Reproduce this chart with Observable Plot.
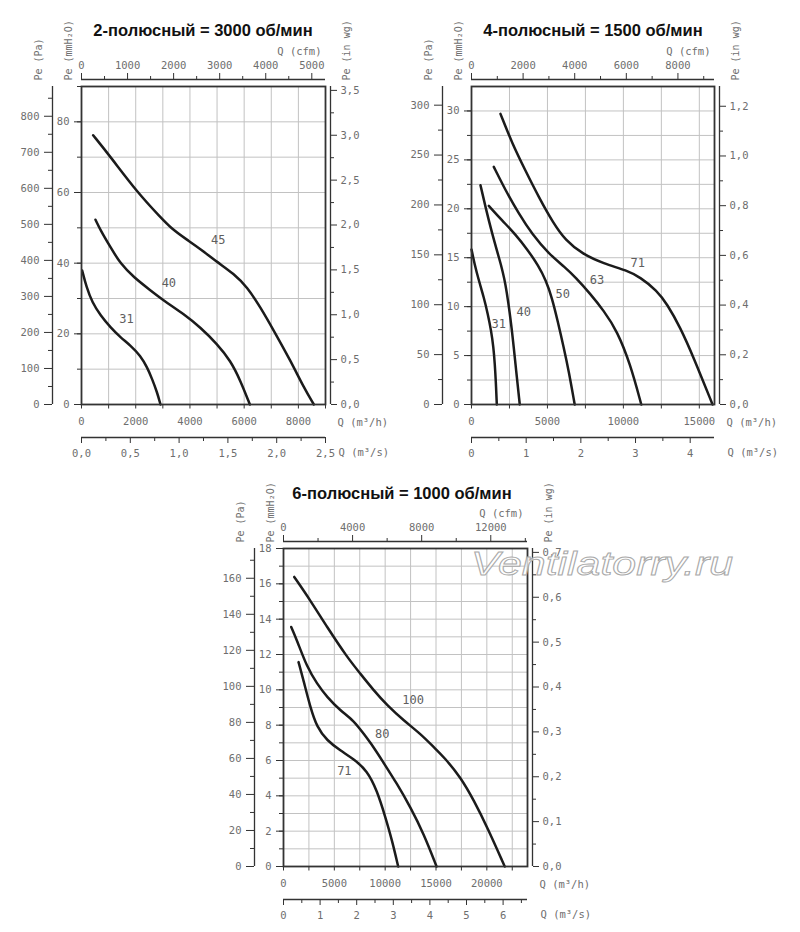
<!DOCTYPE html>
<html><head><meta charset="utf-8">
<script src="https://cdn.jsdelivr.net/npm/d3@7"></script>
<script src="https://cdn.jsdelivr.net/npm/@observablehq/plot@0.6"></script>
<style>
body{margin:0;background:#fff;}
#page{position:relative;width:800px;height:932px;overflow:hidden;}
.ttl{position:absolute;font-family:"Liberation Sans",Arial,sans-serif;font-weight:bold;font-size:16.5px;color:#111;white-space:nowrap;transform:translate(-50%,-50%);z-index:3}
.pnl{position:absolute;z-index:1}
#wm{position:absolute;left:466px;top:542px;z-index:4}
</style></head><body><div id="page"></div>
<script>
// ---------- Data (Q in m³/h, Pe in mmH2O) ----------
// Panel A: 2-pole, 3000 rpm
const a31Q = [25,184,394,701,1070,1439,1808,2177,2423,2607,2791,2914];
const a31P = [37.9,33.2,28.9,25.2,21.8,19.0,16.7,13.8,10.5,7.2,3.4,0];
const a40Q = [516,701,1070,1439,1930,2545,3037,3774,4390,5006,5497,5866,6210];
const a40P = [52.3,49.3,44.5,39.8,36.0,32.3,29.4,25.6,21.8,17.1,12.4,6.7,0];
const a45Q = [430,1070,2054,2914,3345,3899,4390,5006,5620,6113,6603,7094,7710,8201,8570];
const a45P = [76.2,70.1,60.1,53.0,49.6,46.6,44.0,40.3,37.0,33.2,27.5,20.9,12.4,4.8,0];
const aLabelText = ["31","40","45"];
const aLabelQ = [1660,3222,5043];
const aLabelP = [24.2,34.4,46.6];

// Panel B: 4-pole, 1500 rpm
const b31Q = [0,197,482,811,1074,1293,1447,1534,1600,1666];
const b31P = [15.85,14.38,12.67,10.96,9.26,7.55,5.84,4.14,2.43,0];
const b40Q = [592,921,1359,1797,2236,2674,2893,3178];
const b40P = [22.41,20.18,17.46,15.06,12.67,7.55,4.14,0];
const b50Q = [1140,2017,2893,3700,4400,4900,5300,5680,6072,6401,6795];
const b50P = [20.3,18.8,17.4,15.8,14.2,12.7,10.9,8.5,5.84,3.45,0];
const b63Q = [1468,2236,3113,3990,5085,6181,6839,7825,8702,9579,10456,11179];
const b63P = [24.29,21.9,19.5,17.4,15.4,14.0,13.0,11.31,9.6,7.55,4.14,0];
const b71Q = [1907,2674,3551,4428,5400,6181,7279,8700,10237,11113,12210,12867,13744,14621,15871];
const b71P = [29.7,26.7,23.9,21.2,18.5,16.8,15.4,14.4,13.7,13.0,11.65,10.29,7.89,4.82,0];
const bLabelText = ["31","40","50","63","71"];
const bLabelQ = [1797,3441,6006,8264,10938];
const bLabelP = [8.24,9.43,11.24,12.74,14.49];

// Panel C: 6-pole, 1000 rpm
const c71Q = [1479,1972,2633,3293,4279,5591,6902,8223,9209,10028,10688,11280];
const c71P = [11.57,10.53,9.02,7.88,7.13,6.56,6.09,5.43,4.29,2.78,1.46,0];
const c80Q = [759,1321,2307,3293,4279,5591,6902,7888,8874,9702,11181,12493,13804,15056];
const c80P = [13.56,12.81,11.29,10.35,9.59,8.83,8.26,7.51,6.75,6.0,4.67,3.35,1.84,0];
const c100Q = [1055,2633,4279,6251,7563,8874,10195,11832,13479,14790,15776,17423,18734,20055,21761];
const c100P = [16.39,15.07,13.56,11.85,10.91,9.97,9.12,8.26,7.51,6.75,6.2,5.05,3.73,2.21,0];
const cLabelText = ["71","80","100"];
const cLabelQ = [5985,9702,12758];
const cLabelP = [5.39,7.51,9.44];

// Titles
const titles = ["2-полюсный = 3000 об/мин","4-полюсный = 1500 об/мин","6-полюсный = 1000 об/мин"];

// ---------- unit conversions ----------
const PA = 9.80665, INWG = 25.4, CFM = 1.699011, M3S = 3600;
const comma = (v, n) => v.toFixed(n).replace(".", ",");
const AX = "#333", TXT = "#6e6e6e", GRID = "#c2c2c2";
const MONO = "'DejaVu Sans Mono', monospace";
const step = (a, b, s) => d3.range(0, Math.round((b - a) / s) + 1).map(i => +(a + i * s).toFixed(4));

function buildPanel(c) {
  const X = c.xMax, Y = c.yMax;
  const blank = () => "";
  const marks = [
    Plot.gridX(c.gridX, {stroke: GRID, strokeOpacity: 1, strokeWidth: 1}),
    Plot.gridY(c.gridY, {stroke: GRID, strokeOpacity: 1, strokeWidth: 1}),
    ...c.curves.map(k => Plot.line(k.q.map((q, i) => ({q, p: k.p[i]})),
      {x: "q", y: "p", curve: "basis", stroke: "#1b1b1b", strokeWidth: 2.5})),
    Plot.text(c.labels.t.map((t, i) => ({t, q: c.labels.q[i], p: c.labels.p[i]})),
      {x: "q", y: "p", text: "t", fontSize: 12, fill: "#5e5e5e"}),
    Plot.frame({stroke: AX, strokeWidth: 1.8}),
    // left mmH2O axis
    Plot.axisY(c.mmTicks, {anchor: "left", label: null, tickSize: 4, stroke: AX, tickFormat: blank}),
    Plot.axisY(c.mmLabels, {anchor: "left", label: null, tickSize: 7, tickPadding: 5, stroke: AX, fill: TXT, tickFormat: d => String(d)}),
    // Pa axis
    Plot.ruleX([0], {y1: () => 0, y2: () => Y, dx: -29, stroke: AX, strokeWidth: 1.3}),
    Plot.axisY(c.paMinor.map(p => p / PA), {anchor: "left", label: null, dx: -29, tickSize: 4, stroke: AX, tickFormat: blank}),
    Plot.axisY(c.paMajor.map(p => p / PA), {anchor: "left", label: null, dx: -29, tickSize: 8, tickPadding: 5, stroke: AX, fill: TXT, tickFormat: d => String(Math.round(d * PA))}),
    // in wg axis (right)
    Plot.ruleX([X], {y1: () => 0, y2: () => Y, dx: 5, stroke: AX, strokeWidth: 1.3}),
    Plot.axisY(c.wgMinor.map(w => w * INWG), {anchor: "right", label: null, dx: 5, tickSize: 3, stroke: AX, tickFormat: blank}),
    Plot.axisY(c.wgMajor.map(w => w * INWG), {anchor: "right", label: null, dx: 5, tickSize: 6, tickPadding: 4, stroke: AX, fill: TXT, tickFormat: d => comma(d / INWG, 1)}),
    // cfm axis (top)
    Plot.ruleY([Y], {x1: () => 0, x2: () => X, dy: -7, stroke: AX, strokeWidth: 1.3}),
    Plot.axisX(c.cfmMinor.map(v => v * CFM), {anchor: "top", label: null, dy: -7, tickSize: 4, stroke: AX, tickFormat: blank}),
    Plot.axisX(c.cfmMajor.map(v => v * CFM), {anchor: "top", label: null, dy: -7, tickSize: 7, tickPadding: 4, stroke: AX, fill: TXT,
      tickFormat: d => { const v = Math.round(d / CFM); return c.cfmLabels.includes(v) ? String(v) : ""; }}),
    // m³/h axis (bottom)
    Plot.axisX(c.qhTicks, {anchor: "bottom", label: null, tickSize: 4.5, tickPadding: 9, stroke: AX, fill: TXT,
      tickFormat: d => c.qhLabels.includes(d) ? String(d) : ""}),
    // m³/s axis (second bottom)
    Plot.ruleY([0], {x1: () => 0, x2: () => X, dy: 33, stroke: AX, strokeWidth: 1.3}),
    Plot.axisX(c.qsMinor.map(v => v * M3S), {anchor: "bottom", label: null, dy: 33, tickSize: 4, stroke: AX, tickFormat: blank}),
    Plot.axisX(c.qsMajor.map(v => v * M3S), {anchor: "bottom", label: null, dy: 33, tickSize: 6, tickPadding: 6, stroke: AX, fill: TXT,
      tickFormat: d => c.qsFmt(d / M3S)}),
    // axis titles
    Plot.text(["Pe (Pa)"], {x: () => 0, y: () => Y, text: d => d, dx: -43, dy: -6, rotate: -90, textAnchor: "start", fill: TXT, fontSize: 10}),
    Plot.text(["Pe (mmH₂O)"], {x: () => 0, y: () => Y, text: d => d, dx: -13, dy: -6, rotate: -90, textAnchor: "start", fill: TXT, fontSize: 10}),
    Plot.text(["Pe (in wg)"], {x: () => X, y: () => Y, text: d => d, dx: 21, dy: -6, rotate: -90, textAnchor: "start", fill: TXT, fontSize: 10}),
    Plot.text(["Q (cfm)"], {x: () => X, y: () => Y, text: d => d, dx: -4, dy: -35, textAnchor: "end", fill: TXT, fontSize: 10.5}),
    Plot.text(["Q (m³/h)"], {x: () => X, y: () => 0, text: d => d, dx: 12, dy: 18, textAnchor: "start", fill: TXT, fontSize: 10.5}),
    Plot.text(["Q (m³/s)"], {x: () => X, y: () => 0, text: d => d, dx: 13, dy: 48.5, textAnchor: "start", fill: TXT, fontSize: 10.5})
  ];
  return Plot.plot({
    width: c.width, height: c.height,
    marginLeft: c.mL, marginRight: c.mR, marginTop: c.mT, marginBottom: c.mB,
    x: {domain: [0, X], label: null}, y: {domain: [0, Y], label: null},
    style: {fontFamily: MONO, fontSize: "10.5px", background: "transparent", overflow: "visible"},
    marks
  });
}

const panels = [
  {
    left: 0, top: 0, width: 400, height: 465, mL: 81, mR: 75, mT: 86, mB: 61,
    xMax: 9000, yMax: 90,
    gridX: step(1000, 8000, 1000), gridY: step(10, 80, 10),
    curves: [{q: a31Q, p: a31P}, {q: a40Q, p: a40P}, {q: a45Q, p: a45P}],
    labels: {t: aLabelText, q: aLabelQ, p: aLabelP},
    mmTicks: step(0, 90, 10), mmLabels: step(0, 80, 20),
    paMajor: step(0, 800, 100), paMinor: step(50, 850, 100),
    wgMajor: step(0, 3.5, 0.5), wgMinor: step(0.25, 3.25, 0.5),
    cfmMajor: step(0, 5000, 1000), cfmMinor: step(500, 4500, 1000), cfmLabels: step(0, 5000, 1000),
    qhTicks: step(0, 9000, 1000), qhLabels: step(0, 8000, 2000),
    qsMajor: step(0, 2.5, 0.5), qsMinor: step(0.25, 2.25, 0.5), qsFmt: v => comma(v, 1),
    title: titles[0], tx: 203, ty: 30
  },
  {
    left: 400, top: 0, width: 400, height: 465, mL: 71, mR: 86, mT: 86, mB: 61,
    xMax: 16000, yMax: 32.5,
    gridX: step(2500, 15000, 2500), gridY: step(2.5, 30, 2.5),
    curves: [{q: b31Q, p: b31P}, {q: b40Q, p: b40P}, {q: b50Q, p: b50P}, {q: b63Q, p: b63P}, {q: b71Q, p: b71P}],
    labels: {t: bLabelText, q: bLabelQ, p: bLabelP},
    mmTicks: step(0, 30, 2.5), mmLabels: step(0, 30, 5),
    paMajor: step(0, 300, 50), paMinor: step(25, 275, 50),
    wgMajor: step(0, 1.2, 0.2), wgMinor: step(0.1, 1.1, 0.2),
    cfmMajor: step(0, 8000, 2000), cfmMinor: step(1000, 9000, 2000), cfmLabels: step(0, 8000, 2000),
    qhTicks: step(0, 15000, 2500), qhLabels: step(0, 15000, 5000),
    qsMajor: step(0, 4, 1), qsMinor: step(0.5, 3.5, 1), qsFmt: v => String(Math.round(v)),
    title: titles[1], tx: 593, ty: 30
  },
  {
    left: 200, top: 465, width: 400, height: 467, mL: 83, mR: 73, mT: 83, mB: 66,
    xMax: 24000, yMax: 18,
    gridX: step(2500, 22500, 2500), gridY: step(1, 17, 1),
    curves: [{q: c71Q, p: c71P}, {q: c80Q, p: c80P}, {q: c100Q, p: c100P}],
    labels: {t: cLabelText, q: cLabelQ, p: cLabelP},
    mmTicks: step(0, 18, 1), mmLabels: step(0, 18, 2),
    paMajor: step(0, 160, 20), paMinor: step(10, 170, 20),
    wgMajor: step(0, 0.7, 0.1), wgMinor: step(0.05, 0.65, 0.1),
    cfmMajor: step(0, 12000, 4000), cfmMinor: step(2000, 14000, 4000), cfmLabels: step(0, 12000, 4000),
    qhTicks: step(0, 22500, 2500), qhLabels: step(0, 20000, 5000),
    qsMajor: step(0, 6, 1), qsMinor: step(0.5, 6.5, 1), qsFmt: v => String(Math.round(v)),
    title: titles[2], tx: 402, ty: 493
  }
];

const page = document.getElementById("page");
for (const c of panels) {
  const wrap = document.createElement("div");
  wrap.className = "pnl";
  wrap.style.left = c.left + "px";
  wrap.style.top = c.top + "px";
  wrap.appendChild(buildPanel(c));
  page.appendChild(wrap);
  const t = document.createElement("div");
  t.className = "ttl";
  t.style.left = c.tx + "px";
  t.style.top = c.ty + "px";
  t.textContent = c.title;
  page.appendChild(t);
}

// watermark
const wm = document.createElementNS("http://www.w3.org/2000/svg", "svg");
wm.setAttribute("id", "wm");
wm.setAttribute("width", "290");
wm.setAttribute("height", "45");
const wt = document.createElementNS("http://www.w3.org/2000/svg", "text");
wt.setAttribute("x", "5");
wt.setAttribute("y", "33");
wt.setAttribute("font-family", "Liberation Sans, Arial, sans-serif");
wt.setAttribute("font-style", "italic");
wt.setAttribute("font-size", "33");
wt.setAttribute("textLength", "262");
wt.setAttribute("lengthAdjust", "spacingAndGlyphs");
wt.setAttribute("fill", "#ffffff");
wt.setAttribute("fill-opacity", "0.75");
wt.setAttribute("stroke", "#a9a9a9");
wt.setAttribute("stroke-width", "0.9");
wt.textContent = "Ventilatorry.ru";
wm.appendChild(wt);
page.appendChild(wm);
</script></body></html>
